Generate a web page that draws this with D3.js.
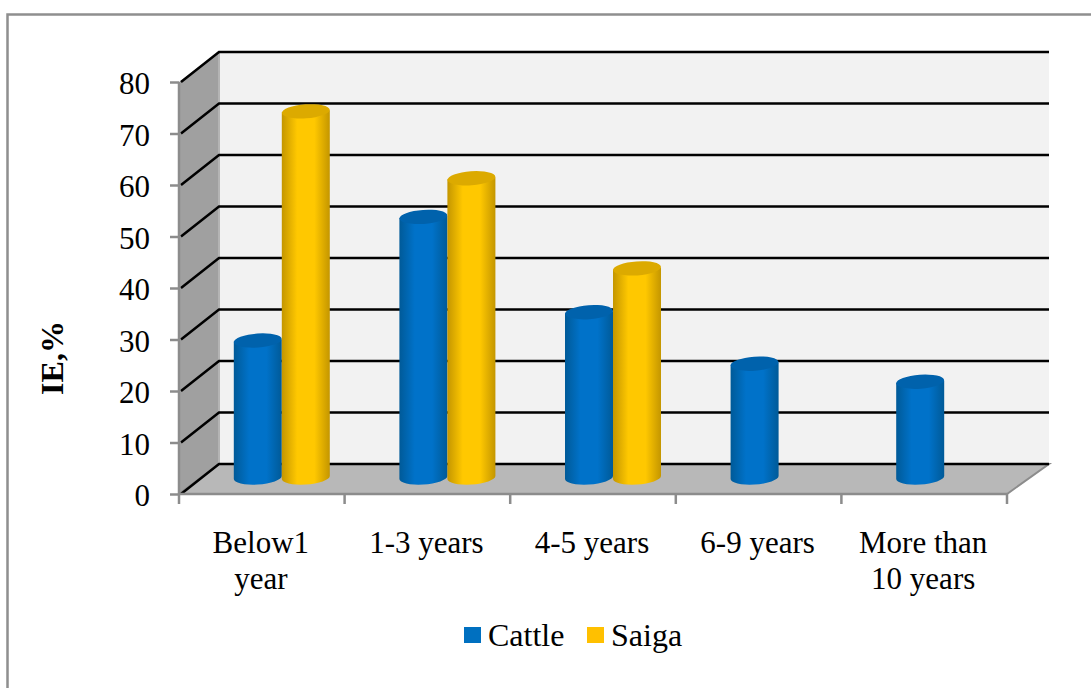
<!DOCTYPE html>
<html>
<head>
<meta charset="utf-8">
<script src="https://cdn.jsdelivr.net/npm/d3@7"></script>
<style>
  html, body { margin: 0; background: #fff; }
  text { font-family: "Liberation Serif", serif; fill: #000; }
  .axis text { font-size: 31px; }
  .axis path, .axis line { stroke: #8c8c8c; stroke-width: 2.5; }
</style>
</head>
<body>
<div id="plot"></div>
<script>
var categories = ["Below1 year", "1-3 years", "4-5 years", "6-9 years", "More than 10 years"]
var tickLabels = [["Below1", "year"], ["1-3 years"], ["4-5 years"], ["6-9 years"], ["More than", "10 years"]]
var seriesNames = ["Cattle", "Saiga"]
var cattle = [26.5, 50.5, 32, 22, 18.5]
var saiga = [71, 58, 40.5, null, null]
var yTicks = [0, 10, 20, 30, 40, 50, 60, 70, 80]

var seriesValues = { Cattle: cattle, Saiga: saiga }
var colors = {
  Cattle: { edge: "#005a98", mid: "#0072c9", top: "#0062ac", legend: "#0070c0" },
  Saiga: { edge: "#c49600", mid: "#ffc800", top: "#dcaa00", legend: "#ffc000" }
}

var width = 1091, height = 688
var depthX = 40, depthY = 30  // how far the back wall sits from the front axes
var barShiftX = 20, barShiftY = 16

var xScale = d3.scaleBand().domain(categories).range([179, 1007])
var yScale = d3.scaleLinear().domain([0, 80]).range([494, 82])
var seriesScale = d3.scaleBand().domain(seriesNames).range([0, xScale.bandwidth()]).paddingOuter(0.725).paddingInner(0)

var svg = d3.select("#plot").append("svg")
  .attr("width", width)
  .attr("height", height)
  .style("display", "block")

// frame, only top and left are visible in the source
svg.append("path")
  .attr("d", "M7.5," + height + "V14.5H" + width)
  .attr("fill", "none")
  .attr("stroke", "#8f8f8f")
  .attr("stroke-width", 2.5)

var defs = svg.append("defs")
seriesNames.forEach(name => {
  var g = defs.append("linearGradient").attr("id", "grad" + name)
  g.append("stop").attr("offset", "0%").attr("stop-color", colors[name].edge)
  g.append("stop").attr("offset", "32%").attr("stop-color", colors[name].mid)
  g.append("stop").attr("offset", "68%").attr("stop-color", colors[name].mid)
  g.append("stop").attr("offset", "100%").attr("stop-color", colors[name].edge)
})

var x0 = xScale.range()[0], x1 = xScale.range()[1], y0 = yScale(0), yTop = yScale(80)
var backRight = x1 + depthX + 2

// back wall
svg.append("rect")
  .attr("x", x0 + depthX).attr("y", yTop - depthY)
  .attr("width", backRight - x0 - depthX).attr("height", y0 - yTop)
  .attr("fill", "#f2f2f2")

// side wall
svg.append("path")
  .attr("d", d3.line()([[x0, yTop], [x0 + depthX, yTop - depthY], [x0 + depthX, y0 - depthY], [x0, y0]]))
  .attr("fill", "#a0a0a0")
svg.append("line")
  .attr("x1", x0 + depthX).attr("x2", x0 + depthX)
  .attr("y1", yTop - depthY).attr("y2", y0 - depthY)
  .attr("stroke", "#b4b4b4").attr("stroke-width", 2)

// floor
svg.append("path")
  .attr("d", d3.line()([[x0, y0], [x0 + depthX, y0 - depthY], [backRight, y0 - depthY], [x1, y0]]) + "Z")
  .attr("fill", "#b8b8b8")
  .attr("stroke", "#8c8c8c")
  .attr("stroke-width", 2)

// gridlines run along the side wall and then the back wall
svg.selectAll(".grid")
  .data(yTicks)
  .enter()
  .append("path")
  .attr("class", "grid")
  .attr("fill", "none")
  .attr("stroke", "#000")
  .attr("stroke-width", 2.5)
  .attr("d", d => d3.line()([[x0 + 2, yScale(d)], [x0 + depthX, yScale(d) - depthY], [backRight, yScale(d) - depthY]]))

// cylinders
var rows = []
categories.forEach((c, i) => {
  seriesNames.forEach(name => {
    if (seriesValues[name][i] != null) rows.push({ cat: c, name: name, value: seriesValues[name][i] })
  })
})

var barRy = 7
var barAngle = -4
var bars = svg.selectAll(".bar").data(rows).enter().append("g").attr("class", "bar")
  .attr("transform", d => "translate(" + (xScale(d.cat) + seriesScale(d.name) + barShiftX) + ",0)")

var bw = seriesScale.bandwidth()
bars.append("path")
  .attr("fill", d => "url(#grad" + d.name + ")")
  .attr("d", d => {
    var top = yScale(d.value) - barShiftY, base = y0 - barShiftY
    return "M0," + top + "V" + (base + 1) +
      "A" + bw / 2 + "," + barRy + " " + barAngle + " 0 0 " + bw + "," + (base - 2) +
      "V" + (top - 2) + "Z"
  })
bars.append("ellipse")
  .attr("cx", bw / 2)
  .attr("cy", d => yScale(d.value) - barShiftY - 1)
  .attr("rx", bw / 2)
  .attr("ry", barRy)
  .attr("transform", d => "rotate(" + barAngle + " " + bw / 2 + " " + (yScale(d.value) - barShiftY - 1) + ")")
  .attr("fill", d => colors[d.name].top)

// axes
var yAxis = svg.append("g")
  .attr("class", "axis")
  .attr("transform", "translate(" + x0 + ",0)")
  .call(d3.axisLeft(yScale).tickValues(yTicks).tickSize(9).tickPadding(20))
yAxis.select(".domain").attr("d", "M0," + yTop + "V" + y0)
yAxis.selectAll("text").attr("transform", "translate(0,2)")

var xAxis = svg.append("g")
  .attr("class", "axis")
  .attr("transform", "translate(0," + y0 + ")")
  .call(d3.axisBottom(xScale).tickSize(0).tickFormat(""))
xAxis.select(".domain").attr("d", "M" + x0 + ",0H" + x1)

var boundaries = categories.map(c => xScale(c)).concat([x1])
xAxis.selectAll(".sep")
  .data(boundaries)
  .enter()
  .append("line")
  .attr("class", "sep")
  .attr("x1", d => d).attr("x2", d => d)
  .attr("y1", 0).attr("y2", 10)

var labels = svg.selectAll(".xlabel")
  .data(categories)
  .enter()
  .append("text")
  .attr("class", "xlabel")
  .attr("text-anchor", "middle")
  .style("font-size", "31px")
  .attr("x", d => xScale(d) + xScale.bandwidth() / 2 - 1)
  .attr("y", 553)
labels.selectAll("tspan")
  .data((d, i) => tickLabels[i])
  .enter()
  .append("tspan")
  .attr("x", function () { return d3.select(this.parentNode).attr("x") })
  .attr("dy", (d, i) => i == 0 ? 0 : 36)
  .text(d => d)

// axis title
svg.append("text")
  .attr("transform", "translate(63,358) rotate(-90)")
  .attr("text-anchor", "middle")
  .style("font-size", "32px")
  .style("font-weight", "bold")
  .text("IE,%")

// legend
var legendX = d3.scaleOrdinal().domain(seriesNames).range([464, 587])
var legend = svg.selectAll(".legend")
  .data(seriesNames)
  .enter()
  .append("g")
  .attr("class", "legend")
  .attr("transform", d => "translate(" + legendX(d) + ",627)")
legend.append("rect")
  .attr("width", 17).attr("height", 16)
  .attr("fill", d => colors[d].legend)
legend.append("text")
  .attr("x", 24).attr("y", 19)
  .style("font-size", "32px")
  .text(d => d)
</script>
</body>
</html>
